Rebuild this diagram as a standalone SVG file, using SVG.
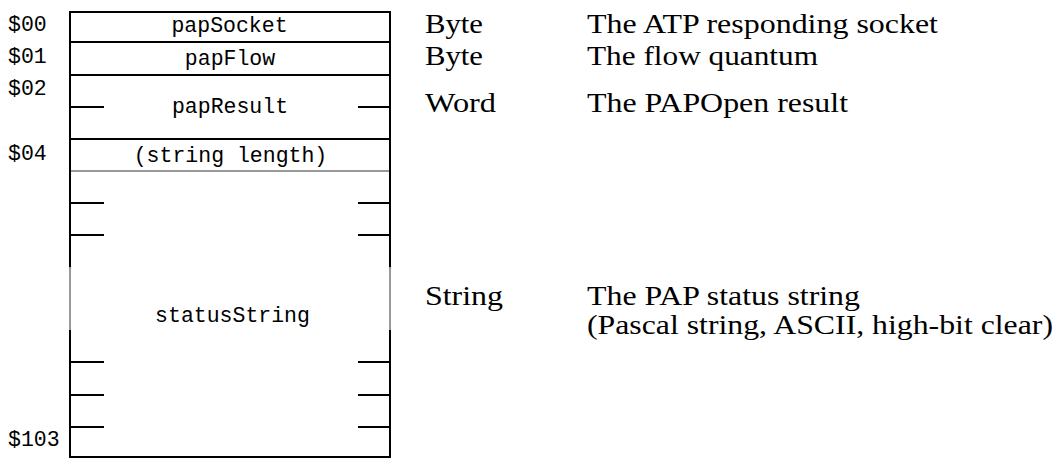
<svg xmlns="http://www.w3.org/2000/svg" width="1060" height="459" viewBox="0 0 1060 459">
<style>
.k{stroke:#000;stroke-width:2;fill:none}
.g{stroke:#999;stroke-width:2;fill:none}
.m{font-family:"Liberation Mono","Courier New",monospace;font-size:21.5px;fill:#000}
.c{text-anchor:middle}
.s{font-family:"Liberation Serif","Times New Roman",serif;font-size:28px;fill:#000}
</style>
<rect width="1060" height="459" fill="#fff"/>
<g id="frame">
<line class="k" x1="70" y1="12" x2="390" y2="12"/>
<line class="k" x1="70" y1="11" x2="70" y2="267"/>
<line class="k" x1="390" y1="11" x2="390" y2="267"/>
<line class="g" x1="70" y1="267" x2="70" y2="330"/>
<line class="g" x1="390" y1="267" x2="390" y2="330"/>
<line class="k" x1="70" y1="330" x2="70" y2="458"/>
<line class="k" x1="390" y1="330" x2="390" y2="458"/>
<line class="k" x1="69" y1="457" x2="391" y2="457"/>
</g>
<g id="papSocket">
<line class="k" x1="70" y1="42" x2="390" y2="42"/>
<text class="m" x="8" y="31">$00</text>
<text class="m c" x="229.5" y="32">papSocket</text>
<text class="s" x="425" y="33" textLength="58" lengthAdjust="spacingAndGlyphs">Byte</text>
<text class="s" x="587" y="33" textLength="351" lengthAdjust="spacingAndGlyphs">The ATP responding socket</text>
</g>
<g id="papFlow">
<line class="k" x1="70" y1="75" x2="390" y2="75"/>
<text class="m" x="8" y="63">$01</text>
<text class="m c" x="230" y="65">papFlow</text>
<text class="s" x="425" y="65" textLength="58" lengthAdjust="spacingAndGlyphs">Byte</text>
<text class="s" x="587" y="65" textLength="231" lengthAdjust="spacingAndGlyphs">The flow quantum</text>
</g>
<g id="papResult">
<line class="k" x1="70" y1="107" x2="104" y2="107"/>
<line class="k" x1="358" y1="107" x2="390" y2="107"/>
<line class="k" x1="70" y1="139" x2="390" y2="139"/>
<text class="m" x="8" y="95">$02</text>
<text class="m c" x="230" y="113">papResult</text>
<text class="s" x="425" y="112" textLength="71" lengthAdjust="spacingAndGlyphs">Word</text>
<text class="s" x="587" y="112" textLength="261" lengthAdjust="spacingAndGlyphs">The PAPOpen result</text>
</g>
<g id="stringLength">
<line class="g" x1="71" y1="171" x2="389" y2="171"/>
<text class="m" x="8" y="160">$04</text>
<text class="m c" x="230.5" y="162">(string length)</text>
</g>
<g id="statusString">
<line class="k" x1="70" y1="203" x2="104" y2="203"/>
<line class="k" x1="358" y1="203" x2="390" y2="203"/>
<line class="k" x1="70" y1="235" x2="104" y2="235"/>
<line class="k" x1="358" y1="235" x2="390" y2="235"/>
<line class="k" x1="70" y1="362" x2="104" y2="362"/>
<line class="k" x1="358" y1="362" x2="390" y2="362"/>
<line class="k" x1="70" y1="395" x2="104" y2="395"/>
<line class="k" x1="358" y1="395" x2="390" y2="395"/>
<line class="k" x1="70" y1="427" x2="104" y2="427"/>
<line class="k" x1="358" y1="427" x2="390" y2="427"/>
<text class="m c" x="232.5" y="322">statusString</text>
<text class="m" x="8" y="446">$103</text>
<text class="s" x="425" y="305" textLength="78" lengthAdjust="spacingAndGlyphs">String</text>
<text class="s" x="587" y="305" textLength="273" lengthAdjust="spacingAndGlyphs">The PAP status string</text>
<text class="s" x="587" y="334" textLength="466" lengthAdjust="spacingAndGlyphs">(Pascal string, ASCII, high-bit clear)</text>
</g>
</svg>
